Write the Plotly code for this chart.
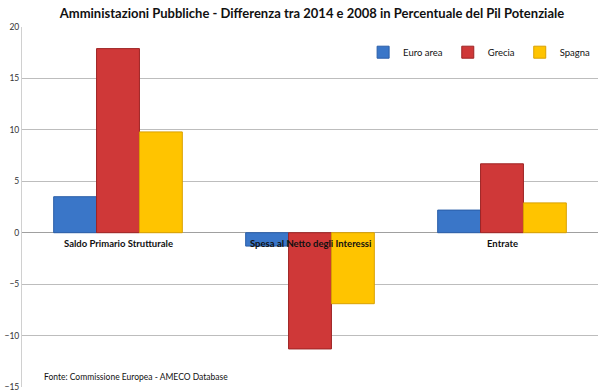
import plotly.graph_objects as go

categories = ["Saldo Primario Strutturale", "Spesa al Netto degli Interessi", "Entrate"]
euro_area = [3.5, -1.3, 2.2]
grecia = [17.9, -11.3, 6.7]
spagna = [9.8, -6.9, 2.9]
y_ticks = [-15, -10, -5, 0, 5, 10, 15, 20]

font = "Lato, Noto Sans, sans-serif"

fig = go.Figure()
for name, vals, col, line in [("Euro area", euro_area, "#3a76c8", "#2a5ea8"),
                              ("Grecia", grecia, "#cf3838", "#9e2424"),
                              ("Spagna", spagna, "#ffc400", "#d9a000")]:
    fig.add_trace(go.Bar(name=name, x=categories, y=vals,
                         marker=dict(color=col, line=dict(color=line, width=1))))

for c in categories:
    fig.add_annotation(x=c, y=0, xref="x", yref="y", text="<b>" + c + "</b>",
                       showarrow=False, yanchor="top", yshift=-3,
                       font=dict(size=9.5, color="#111111", family=font))

fig.add_annotation(x=0.035, y=0.028, xref="paper", yref="paper",
                   text="Fonte: Commissione Europea - AMECO Database",
                   showarrow=False, xanchor="left", yanchor="middle",
                   font=dict(size=8.5, color="#111111", family=font))

fig.update_layout(
    width=600, height=392,
    margin=dict(l=22, r=2, t=27, b=5, autoexpand=False),
    paper_bgcolor="white", plot_bgcolor="white",
    title=dict(text="<b>Amministazioni Pubbliche - Differenza tra 2014 e 2008 in Percentuale del Pil Potenziale</b>",
               x=0.52, xanchor="center", y=0.965, yanchor="middle",
               font=dict(size=13, color="#111111", family=font)),
    barmode="group", bargap=0.33, bargroupgap=0,
    legend=dict(orientation="h", x=0.995, y=0.93, xanchor="right", yanchor="middle",
                font=dict(size=9.5, color="#111111", family=font),
                itemwidth=30, traceorder="normal", bgcolor="rgba(0,0,0,0)"),
    xaxis=dict(showticklabels=False, showgrid=False, zeroline=False,
               showline=False, ticks=""),
    yaxis=dict(range=[-15, 20], tickvals=y_ticks, showgrid=True, gridcolor="#bdbdbd",
               gridwidth=1, zeroline=True, zerolinecolor="#a0a0a0", zerolinewidth=1,
               showline=True, linecolor="#d0d0d0", ticks="",
               tickfont=dict(size=8.5, color="#333333", family=font)),
)
fig.write_html("out.html", config={"displayModeBar": False},
               post_script="document.body.style.margin='0';")
